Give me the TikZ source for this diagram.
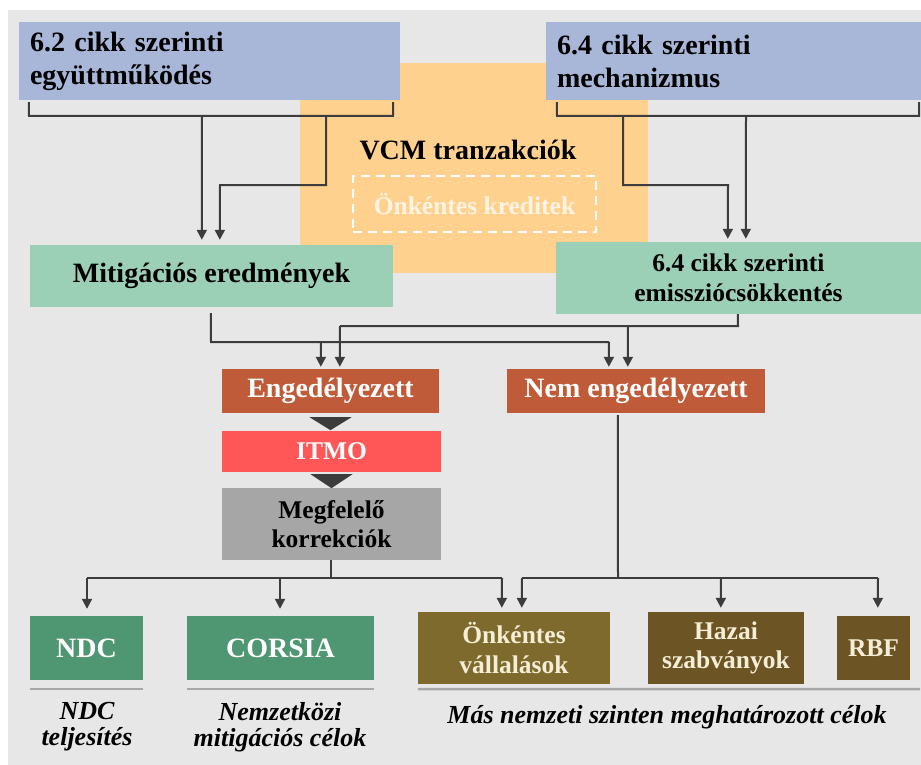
\documentclass[tikz,border=0pt]{standalone}
\usepackage{fontspec}
\setmainfont{Liberation Serif}
\usetikzlibrary{arrows.meta,calc}
\definecolor{bgc}{HTML}{E7E7E7}
\definecolor{bluec}{HTML}{A8B6D8}
\definecolor{orc}{HTML}{FFD18E}
\definecolor{lgreen}{HTML}{9BCFB6}
\definecolor{engc}{HTML}{BF5B38}
\definecolor{itmoc}{HTML}{FF5757}
\definecolor{greyc}{HTML}{A6A6A6}
\definecolor{dgreen}{HTML}{4F9672}
\definecolor{olive}{HTML}{7E6A2C}
\definecolor{brownc}{HTML}{6C5424}
\definecolor{linec}{HTML}{3C3C3C}
\definecolor{ulc}{HTML}{A8A8A8}
\definecolor{creamc}{HTML}{F5EDD5}
\definecolor{kredc}{HTML}{FFF4E2}
\newcommand\fntBig{\fontsize{28}{33}\selectfont\bfseries}
\newcommand\fntMid{\fontsize{25.5}{29.5}\selectfont\bfseries}
\newcommand\fntCap{\fontsize{26}{26}\selectfont\bfseries\itshape}
\begin{document}
\begin{tikzpicture}[x=1pt,y=-1pt,
  box/.style={inner sep=0pt, align=center},
  conn/.style={draw=linec, line width=2pt},
  arr/.style={draw=linec, line width=2pt, -{Triangle[width=10pt,length=10pt]}},
  uline/.style={draw=ulc, line width=2.5pt},
  tri/.style={fill=linec}]
\useasboundingbox (0,0) rectangle (921,765);
\fill[white] (0,0) rectangle (921,765);
\fill[bgc] (8,10) rectangle (921,765);
% orange VCM region
\node[box, fill=orc, minimum width=348pt, minimum height=210pt] (vcmbg) at (474,168) {};
\node[box, font=\fntBig] (vcm) at (468,150) {VCM tranzakciók};
\node[box, draw=white, line width=2.2pt, dash pattern=on 9pt off 6pt, minimum width=243pt, minimum height=56pt, font=\fntMid, text=kredc] (kred) at (474.5,204) {Önkéntes kreditek};
% top blue boxes
\node[box, fill=bluec, minimum width=381pt, minimum height=78pt, text width=359pt, inner xsep=11pt, align=left, font=\fntBig] (b62) at (209.5,61) {6.2 cikk szerinti\\együttműködés};
\node[box, fill=bluec, minimum width=375pt, minimum height=78pt, text width=353pt, inner xsep=11pt, align=left, font=\fntBig] (b64) at (733.5,61) {6.4 cikk szerinti\\mechanizmus};
% green boxes
\node[box, fill=lgreen, minimum width=363pt, minimum height=62pt, font=\fntBig] (mit) at (211.5,276) {Mitigációs eredmények};
\node[box, fill=lgreen, minimum width=365pt, minimum height=72pt, font=\fntMid] (e64) at (738.5,278) {6.4 cikk szerinti\\emissziócsökkentés};
% middle chain
\node[box, fill=engc, minimum width=217pt, minimum height=44pt, font=\fntBig, text=white] (eng) at (330.5,391) {Engedélyezett};
\node[box, fill=itmoc, minimum width=219pt, minimum height=41pt, font=\fntMid, text=white] (itmo) at (331.5,451.5) {ITMO};
\node[box, fill=greyc, minimum width=219pt, minimum height=72pt, font=\fntMid] (meg) at (331.5,524) {Megfelelő\\korrekciók};
\node[box, fill=engc, minimum width=258pt, minimum height=44pt, font=\fntBig, text=white] (nem) at (636,391) {Nem engedélyezett};
% bottom boxes
\node[box, fill=dgreen, minimum width=113pt, minimum height=64pt, font=\fntBig, text=white] (ndc) at (86.5,648) {NDC};
\node[box, fill=dgreen, minimum width=187pt, minimum height=64pt, font=\fntBig, text=white] (cor) at (280.5,648) {CORSIA};
\node[box, fill=olive, minimum width=192pt, minimum height=72pt, font=\fntMid, text=creamc] (onk) at (514,648) {Önkéntes\\vállalások};
\node[box, fill=brownc, minimum width=156pt, minimum height=72pt, font=\fntMid, text=creamc] (haz) at (726,648) {Hazai\\szabványok};
\node[box, fill=brownc, minimum width=73pt, minimum height=64pt, font=\fntMid, text=creamc] (rbf) at (873.5,648) {RBF};
% underlines
\draw[uline] ($(ndc.south west)+(0,9)$) -- ($(ndc.south east)+(0,9)$);
\draw[uline] ($(cor.south west)+(0,9)$) -- ($(cor.south east)+(0,9)$);
\draw[uline] ($(onk.south west)+(0,5)$) -- (920,689);
% captions
\node[box, font=\fntCap] (capndc) at (87,727) {NDC\\teljesítés};
\node[box, font=\fntCap] (capcor) at (280,727) {Nemzetközi\\mitigációs célok};
\node[box, font=\fntCap] (capmas) at (667,717) {Más nemzeti szinten meghatározott célok};
% triangles
\fill[tri] ($(eng.south)+(-21,4)$) -- ($(eng.south)+(21,4)$) -- ($(eng.south)+(0,17)$) -- cycle;
\fill[tri] ($(itmo.south)+(-21,2)$) -- ($(itmo.south)+(21,2)$) -- ($(itmo.south)+(0,16)$) -- cycle;
% top connectors
\draw[conn] ($(b62.south west)+(10,2)$) -- (29,116) -- (393,116) -- ($(b62.south east)+(-7,2)$);
\draw[arr] (202,116) -- ($(mit.north west)+(172,-5)$);
\draw[arr] (326,116) -- (326,185) -- (220,185) -- ($(mit.north west)+(190,-5)$);
\draw[conn] ($(b64.south west)+(11,2)$) -- (557,116) -- (919,116) -- ($(b64.south east)+(-2,2)$);
\draw[arr] (623,116) -- (623,185) -- (728,185) -- ($(e64.north west)+(172,-3)$);
\draw[arr] (746,116) -- ($(e64.north west)+(190,-3)$);
% middle connectors
\draw[conn] ($(mit.south west)+(181,6)$) -- (211,342) -- (609,342);
\draw[arr] (321,342) -- ($(eng.north west)+(99,-2)$);
\draw[arr] (609,342) -- ($(nem.north west)+(102,-2)$);
\draw[conn] ($(e64.south west)+(182,0)$) -- (738,326) -- (340,326);
\draw[arr] (340,326) -- ($(eng.north west)+(118,-2)$);
\draw[arr] (628,326) -- ($(nem.north west)+(121,-2)$);
% bottom connectors
\draw[conn] ($(meg.south)+(-0.5,0)$) -- (331,578);
\draw[conn] (87,578) -- (502,578);
\draw[arr] (87,578) -- ($(ndc.north)+(0.5,-7)$);
\draw[arr] (280,578) -- ($(cor.north)+(-0.5,-7)$);
\draw[arr] (502,578) -- ($(onk.north west)+(84,-4)$);
\draw[conn] ($(nem.south west)+(111,2)$) -- (618,578);
\draw[conn] (522,578) -- (878,578);
\draw[arr] (522,578) -- ($(onk.north west)+(104,-4)$);
\draw[arr] (721,578) -- ($(haz.north west)+(73,-4)$);
\draw[arr] (878,578) -- ($(rbf.north west)+(41,-8)$);
\end{tikzpicture}
\end{document}
